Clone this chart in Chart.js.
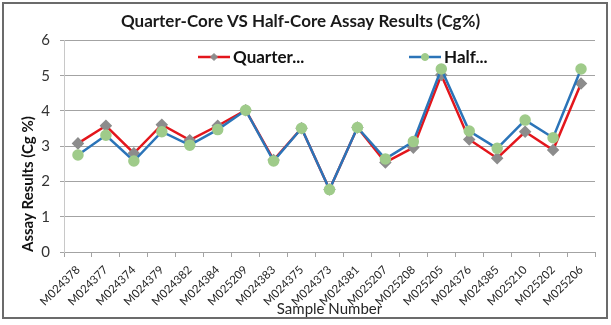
<!DOCTYPE html>
<html>
<head>
<meta charset="utf-8">
<script src="https://cdn.jsdelivr.net/npm/chart.js@4/dist/chart.umd.min.js"></script>
<style>
    html, body { margin: 0; padding: 0; background: #fff; }
    #wrap { width: 611px; height: 325px; }
</style>
</head>
<body>
<div id="wrap"><canvas id="chart" width="611" height="325"></canvas></div>
<script>
const samples = ["M024378", "M024377", "M024374", "M024379", "M024382", "M024384", "M025209",
    "M024383", "M024375", "M024373", "M024381", "M025207", "M025208", "M025205",
    "M024376", "M024385", "M025210", "M025202", "M025206"];
const quarterCore = [3.08, 3.58, 2.80, 3.61, 3.17, 3.58, 4.02, 2.61, 3.51, 1.77,
    3.53, 2.54, 2.96, 5.02, 3.19, 2.66, 3.41, 2.89, 4.78];
const halfCore = [2.75, 3.31, 2.58, 3.41, 3.03, 3.47, 4.02, 2.58, 3.51, 1.77,
    3.53, 2.64, 3.13, 5.19, 3.43, 2.94, 3.74, 3.24, 5.19];
const yTicks = [0, 1, 2, 3, 4, 5, 6];

const FONT = "Lato, 'Open Sans', sans-serif";
const GRID = "#a3a3a3";

// white page and the grey frame round the chart
const framePlugin = {
    id: "frame",
    beforeDraw(chart) {
        const c = chart.ctx;
        c.save();
        c.fillStyle = "#fff";
        c.fillRect(0, 0, chart.width, chart.height);
        c.strokeStyle = "#6b6b6b";
        c.lineWidth = 2;
        c.strokeRect(3, 3, 604, 315);
        c.restore();
    }
};

// legend sits inside the plot: line, marker, then label
const inlineLegend = {
    id: "inlineLegend",
    afterDatasetsDraw(chart, args, opts) {
        const c = chart.ctx;
        c.save();
        c.font = "bold 17px " + FONT;
        c.textBaseline = "middle";
        chart.data.datasets.forEach((ds, i) => {
            const x = opts.starts[i], y = opts.y;
            c.strokeStyle = ds.borderColor;
            c.lineWidth = ds.borderWidth;
            c.beginPath();
            c.moveTo(x, y);
            c.lineTo(x + 32, y);
            c.stroke();
            c.fillStyle = ds.pointBackgroundColor;
            c.strokeStyle = ds.pointBorderColor;
            c.lineWidth = 1;
            Chart.helpers.drawPoint(c, { pointStyle: ds.pointStyle, radius: 3.5, rotation: 0, borderWidth: 1 }, x + 16, y);
            c.fillStyle = "#111";
            c.fillText(ds.label, x + 35, y + 1);
        });
        c.restore();
    }
};

const config = {
    type: "line",
    data: {
        labels: samples,
        datasets: [{
            label: "Quarter...",
            data: quarterCore,
            borderColor: "#e3161c",
            borderWidth: 2.5,
            pointStyle: "rectRot",
            pointRadius: 4.5,
            pointBackgroundColor: "#8c8c8c",
            pointBorderColor: "#8c8c8c",
            tension: 0,
            order: 1
        }, {
            label: "Half...",
            data: halfCore,
            borderColor: "#2b74b8",
            borderWidth: 2.5,
            pointStyle: "circle",
            pointRadius: 4.5,
            pointBackgroundColor: "#9fcb8a",
            pointBorderColor: "#9fcb8a",
            tension: 0,
            order: 0
        }]
    },
    options: {
        responsive: false,
        animation: false,
        layout: { padding: { left: 6, right: 16, top: 0, bottom: 7 } },
        plugins: {
            legend: { display: false },
            tooltip: { enabled: false },
            title: {
                display: true,
                text: "Quarter-Core VS Half-Core Assay Results (Cg%)",
                color: "#1a1a1a",
                font: { family: FONT, size: 17, weight: "bold" },
                padding: { top: 11, bottom: 9 }
            },
            inlineLegend: { starts: [198, 409], y: 57 }
        },
        scales: {
            x: {
                offset: true,
                grid: { display: true, drawOnChartArea: false, offset: true, color: GRID, tickLength: 5 },
                border: { display: true, color: GRID },
                ticks: {
                    autoSkip: false,
                    maxRotation: 45,
                    minRotation: 45,
                    padding: 6,
                    color: "#262626",
                    font: { family: FONT, size: 11.5 }
                },
                title: {
                    display: true,
                    text: "Sample Number",
                    color: "#262626",
                    font: { family: FONT, size: 15 },
                    padding: { top: 0, bottom: 0 }
                },
                afterFit(scale) { scale.height = 66; }
            },
            y: {
                min: 0,
                max: 6,
                afterBuildTicks(scale) { scale.ticks = yTicks.map(v => ({ value: v })); },
                grid: { color: GRID, tickLength: 4 },
                border: { display: true, color: "#c8c8c8" },
                ticks: {
                    padding: 10,
                    color: "#333",
                    font: { family: FONT, size: 15 }
                },
                title: {
                    display: true,
                    text: "Assay Results (Cg %)",
                    align: "start",
                    color: "#111",
                    font: { family: FONT, size: 15, weight: "bold" },
                    padding: { top: 13, bottom: 0 }
                },
                afterFit(scale) { scale.width = 58; }
            }
        }
    },
    plugins: [framePlugin, inlineLegend]
};

const chartLine = new Chart(document.getElementById("chart"), config);
</script>
</body>
</html>
